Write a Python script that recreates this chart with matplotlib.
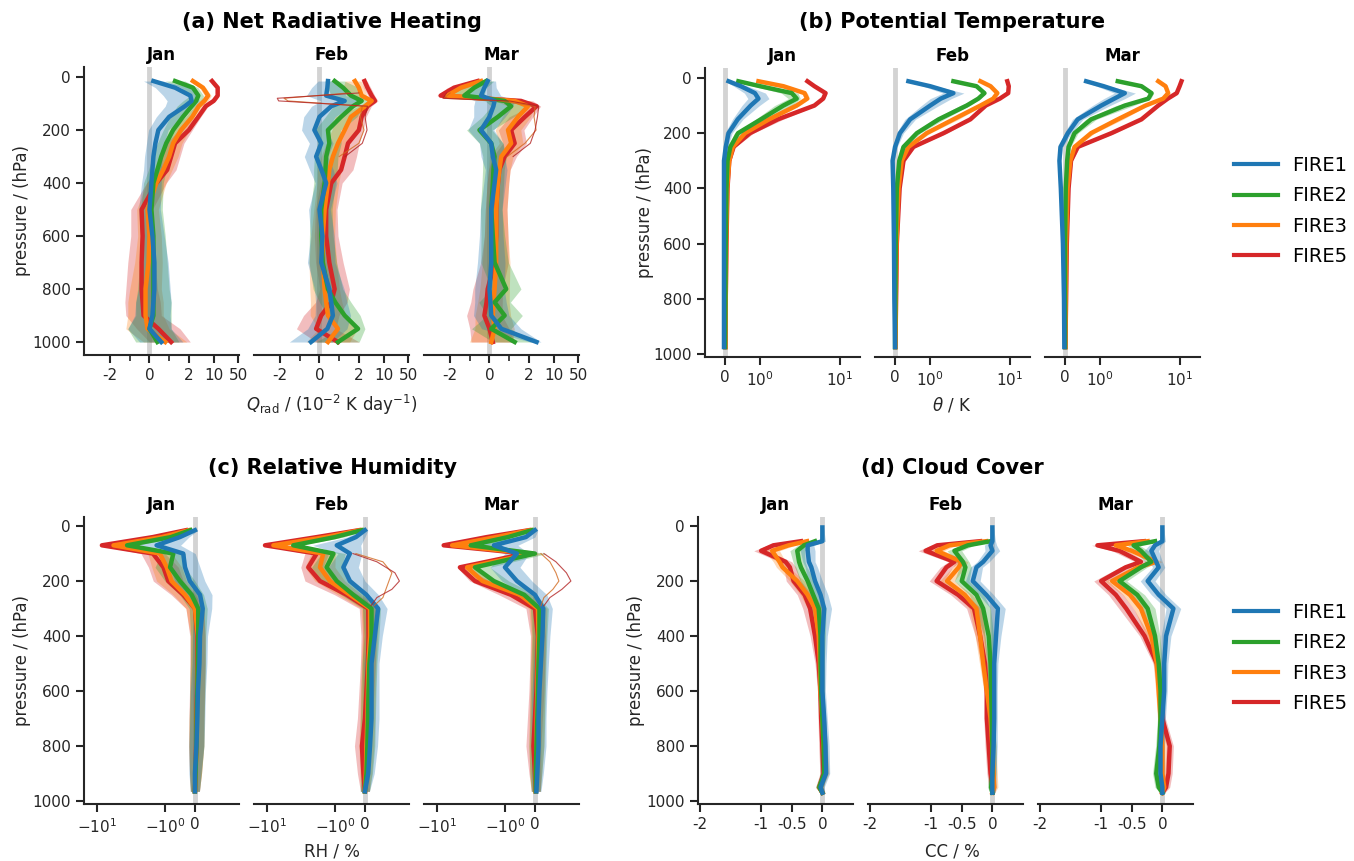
import numpy as np
import matplotlib
matplotlib.use("Agg")
import matplotlib.pyplot as plt
from matplotlib.lines import Line2D

plt.rcParams["font.family"] = "DejaVu Sans"
plt.rcParams["axes.unicode_minus"] = False

# experiments (drawn in reverse so FIRE1 ends on top)
exps = ["FIRE1", "FIRE2", "FIRE3", "FIRE5"]
colors = ["tab:blue", "tab:green", "tab:orange", "tab:red"]
months = ["Jan", "Feb", "Mar"]
nan = np.nan

# ---------------- (a) net radiative heating, 10^-2 K/day ----------------
p_a = [15, 40, 70, 90, 110, 150, 200, 250, 300, 350, 400, 500, 600, 700, 800, 850, 900, 950, 1000]
qrad_jan = np.array([
    [0.2, 1.3, 2.2, 2.4, 1.8, 1.0, 0.45, 0.3, 0.2, 0.15, 0.1, 0.0, 0.15, 0.25, 0.25, 0.2, 0.15, 0.0, 0.6],
    [1.3, 2.6, 3.7, 3.2, 2.4, 1.7, 1.2, 0.85, 0.6, 0.4, 0.2, 0.1, 0.2, 0.2, 0.2, 0.2, 0.2, 0.0, 0.4],
    [2.6, 5.0, 7.0, 5.5, 3.8, 2.5, 1.6, 1.2, 1.0, 0.7, 0.35, -0.1, 0.0, -0.05, -0.2, -0.2, -0.2, -0.1, 0.8],
    [9.0, 13.0, 13.0, 10.0, 6.0, 3.7, 2.0, 1.3, 1.1, 0.9, 0.35, -0.4, -0.35, -0.4, -0.4, -0.35, -0.3, 0.45, 1.1],
])
qrad_feb = np.array([
    [0.43, 0.4, 0.34, 1.28, 0.6, 0.0, -0.26, 0.09, -0.17, 0.1, 0.34, 0.0, 0.15, 0.09, 0.5, 0.6, 0.68, 0.4, -0.43],
    [0.77, 1.2, 1.6, 2.4, 1.7, 1.1, 0.43, 0.5, 0.34, 0.3, 0.26, 0.09, 0.09, 0.17, 0.43, 0.8, 1.28, 1.96, 0.94],
    [1.8, 2.0, 2.4, 4.6, 3.0, 1.6, 1.28, 0.94, 0.68, 0.5, 0.43, 0.26, 0.17, 0.17, 0.26, 0.34, 0.43, 0.94, 0.43],
    [2.9, 3.5, 4.6, 5.7, 3.5, 2.4, 2.0, 1.45, 1.28, 1.1, 0.6, 0.34, 0.34, 0.5, 0.77, 0.6, 0.09, -0.17, 0.94],
])
qrad_mar = np.array([
    [-0.09, -0.26, -0.43, 0.26, 0.2, 0.0, -0.43, 0.09, 0.17, 0.34, 0.26, 0.09, 0.09, 0.09, 0.0, 0.05, 0.09, 0.6, 3.3],
    [-0.17, -0.77, -1.28, 0.77, 1.1, 0.43, -0.51, 0.09, 0.26, 0.2, 0.17, 0.09, 0.17, 0.26, 0.85, 0.26, 0.77, 0.09, 1.28],
    [-0.43, -1.45, -2.4, 1.28, 1.96, 1.45, 0.94, 1.1, 0.6, 0.5, 0.43, 0.34, 0.34, 0.34, 0.26, 0.2, 0.17, 0.26, 0.09],
    [-0.6, -1.8, -3.7, 1.6, 3.3, 1.8, 1.1, 1.28, 0.77, 0.5, 0.43, 0.34, 0.34, 0.26, -0.09, -0.15, -0.26, 0.0, 0.17],
])
qrad_spread_jan = [0.5, 1.0, 1.5, 1.5, 1.0, 0.65, 0.5, 0.45, 0.45, 0.45, 0.5, 0.55, 0.6, 0.7, 0.8, 0.9, 0.9, 1.1, 1.1]
qrad_spread_feb = [0.5, 0.8, 1.0, 1.2, 1.0, 0.8, 0.65, 0.6, 0.6, 0.6, 0.55, 0.55, 0.6, 0.7, 0.75, 0.8, 0.9, 1.0, 1.1]
qrad_spread_mar = [0.4, 0.6, 1.0, 1.0, 1.0, 0.8, 0.65, 0.6, 0.6, 0.55, 0.55, 0.55, 0.6, 0.7, 0.75, 0.8, 0.9, 1.0, 1.1]
# single outlying members (thin lines)
p_a_thin = [60, 80, 90, 110, 150, 200, 250, 300]
qrad_feb_thin = np.array([
    [1.5, -1.8, -1.6, 2.5, 2.2, 2.8, 2.0, 1.0],
    [2.0, -2.4, -2.2, 3.5, 3.0, 3.4, 2.5, 1.3],
])
qrad_mar_thin = np.array([
    [-2.0, -3.0, 0.5, 3.0, 2.8, 3.2, 1.8, 0.9],
    [-2.5, -3.2, 1.0, 3.8, 3.5, 3.0, 2.2, 1.2],
])

# ---------------- (b) potential temperature, K ----------------
p_b = [12, 30, 55, 75, 100, 150, 200, 250, 300, 400, 600, 800, 975]
theta_jan = np.array([
    [0.1, 0.45, 0.85, 0.95, 0.73, 0.36, 0.1, 0.02, -0.03, -0.03, -0.03, -0.03, -0.03],
    [0.38, 1.0, 1.9, 2.1, 1.66, 1.02, 0.37, 0.15, 0.07, 0.04, 0.02, 0.01, 0.0],
    [0.95, 1.66, 2.8, 3.07, 2.1, 1.25, 0.57, 0.22, 0.12, 0.06, 0.03, 0.02, 0.01],
    [3.1, 4.0, 6.0, 5.5, 4.0, 1.5, 0.71, 0.24, 0.12, 0.07, 0.04, 0.02, 0.01],
])
theta_feb = np.array([
    [0.38, 1.0, 1.66, 1.3, 1.0, 0.43, 0.14, 0.0, -0.07, -0.05, -0.03, -0.02, 0.0],
    [1.66, 3.0, 4.0, 3.2, 2.1, 1.24, 0.62, 0.24, 0.12, 0.05, 0.02, 0.01, 0.0],
    [3.46, 5.0, 6.4, 5.5, 3.46, 1.66, 0.9, 0.38, 0.19, 0.1, 0.04, 0.02, 0.01],
    [9.2, 9.7, 9.5, 7.0, 4.2, 2.4, 1.38, 0.52, 0.24, 0.13, 0.05, 0.03, 0.01],
])
theta_mar = np.array([
    [0.6, 1.1, 1.7, 1.4, 1.03, 0.36, 0.08, -0.13, -0.16, -0.12, -0.06, -0.03, -0.02],
    [1.5, 2.5, 3.6, 3.2, 1.7, 0.74, 0.27, 0.1, 0.06, 0.02, 0.0, 0.0, 0.0],
    [4.6, 6.0, 6.6, 5.5, 2.9, 1.5, 0.74, 0.27, 0.15, 0.07, 0.03, 0.02, 0.01],
    [10.7, 10.0, 9.0, 6.5, 4.6, 2.5, 1.32, 0.36, 0.17, 0.1, 0.05, 0.03, 0.01],
])
theta_spread = [0.1, 0.2, 0.3, 0.3, 0.25, 0.15, 0.1, 0.06, 0.04, 0.03, 0.02, 0.02, 0.02]

# ---------------- (c) relative humidity, % ----------------
p_c = [15, 40, 70, 100, 150, 200, 250, 300, 400, 500, 600, 700, 800, 900, 965]
rh_jan = np.array([
    [0.0, -0.5, -1.28, -0.39, -0.33, -0.17, 0.17, 0.26, 0.17, 0.15, 0.1, 0.08, 0.05, 0.0, 0.0],
    [-0.15, -0.8, -2.8, -0.72, -0.83, -0.5, -0.11, 0.11, 0.11, 0.1, 0.08, 0.06, 0.05, 0.02, 0.0],
    [-0.2, -1.1, -5.0, -1.17, -0.94, -0.78, -0.33, 0.0, 0.1, 0.1, 0.08, 0.06, 0.05, 0.02, 0.0],
    [-0.3, -1.4, -8.2, -1.4, -1.05, -0.89, -0.39, 0.0, 0.08, 0.08, 0.07, 0.05, 0.04, 0.02, 0.0],
])
rh_feb = np.array([
    [0.0, -0.3, -0.94, -0.5, -0.72, -0.5, 0.05, 0.44, 0.33, 0.22, 0.22, 0.22, 0.17, 0.11, 0.0],
    [-0.1, -1.0, -3.3, -1.05, -1.28, -0.94, -0.39, 0.22, 0.22, 0.15, 0.12, 0.1, 0.08, 0.05, 0.0],
    [-0.15, -1.3, -7.7, -1.39, -1.5, -1.17, -0.5, 0.17, 0.17, 0.12, 0.1, 0.08, 0.05, 0.03, 0.0],
    [-0.2, -1.6, -11.0, -1.61, -1.89, -1.5, -0.61, 0.11, 0.12, 0.1, 0.05, 0.0, -0.1, -0.05, 0.0],
])
rh_mar = np.array([
    [0.0, -0.3, -1.37, -0.6, -1.0, -0.6, 0.0, 0.28, 0.25, 0.2, 0.15, 0.12, 0.12, 0.08, 0.05],
    [-0.1, -0.9, -2.4, 0.0, -2.0, -1.37, -0.36, 0.15, 0.15, 0.12, 0.1, 0.08, 0.05, 0.03, 0.03],
    [-0.15, -1.3, -5.3, -0.1, -2.8, -1.75, -0.5, 0.1, 0.12, 0.1, 0.08, 0.06, 0.05, 0.03, 0.03],
    [-0.2, -1.6, -7.6, -0.3, -3.8, -2.0, -0.8, 0.0, 0.1, 0.08, 0.05, 0.0, -0.05, 0.0, 0.03],
])
rh_spread = [0.1, 0.3, 0.8, 0.4, 0.5, 0.5, 0.4, 0.3, 0.25, 0.25, 0.25, 0.25, 0.25, 0.2, 0.15]
p_c_thin = [100, 130, 170, 200, 230, 260, 290]
rh_feb_thin = np.array([
    [-0.3, 0.6, 0.9, 0.8, 0.7, 0.6, 0.3],
    [-0.4, 0.4, 1.0, 1.15, 0.9, 0.4, 0.2],
])
rh_mar_thin = np.array([
    [0.2, 0.5, 0.7, 0.8, 0.6, 0.3, 0.2],
    [0.3, 0.7, 1.05, 1.2, 0.9, 0.5, 0.3],
])

# ---------------- (d) cloud cover, % ----------------
p_d = [5, 55, 70, 90, 130, 150, 200, 250, 300, 400, 500, 600, 700, 800, 900, 950, 970]
cc_jan = np.array([
    [0.0, 0.0, -0.24, -0.24, -0.22, -0.18, -0.12, -0.03, 0.03, 0.0, 0.0, 0.0, 0.03, 0.05, 0.06, -0.03, 0.0],
    [nan, -0.12, -0.3, -0.41, -0.38, -0.35, -0.24, -0.15, -0.06, -0.03, -0.03, -0.02, 0.0, 0.02, 0.03, -0.05, 0.0],
    [nan, -0.25, -0.55, -0.82, -0.7, -0.65, -0.41, -0.24, -0.12, -0.06, -0.04, -0.03, 0.0, 0.02, 0.05, -0.05, 0.0],
    [nan, -0.35, -0.8, -1.0, -0.6, -0.53, -0.47, -0.29, -0.2, -0.12, -0.06, -0.03, -0.02, 0.0, 0.02, -0.05, 0.0],
])
cc_feb = np.array([
    [0.0, 0.0, -0.03, 0.0, -0.15, -0.26, -0.32, -0.1, 0.09, 0.06, 0.03, 0.03, 0.03, 0.02, 0.0, 0.0, 0.0],
    [nan, -0.03, -0.4, -0.62, -0.48, -0.44, -0.5, -0.26, -0.15, -0.06, -0.03, -0.02, -0.01, 0.0, 0.0, -0.02, 0.0],
    [nan, -0.1, -0.7, -0.91, -0.5, -0.55, -0.74, -0.45, -0.26, -0.2, -0.15, -0.09, -0.03, 0.0, 0.02, 0.03, 0.0],
    [nan, -0.2, -0.9, -1.09, -0.62, -0.75, -0.91, -0.56, -0.3, -0.2, -0.12, -0.09, -0.09, -0.06, -0.03, 0.0, 0.0],
])
cc_mar = np.array([
    [0.0, 0.0, -0.12, -0.18, -0.1, -0.06, -0.24, -0.06, 0.18, 0.06, 0.03, 0.03, 0.0, -0.03, -0.03, 0.0, 0.0],
    [nan, -0.12, -0.47, -0.35, -0.18, -0.35, -0.7, -0.41, -0.24, -0.12, -0.06, -0.03, -0.03, -0.05, -0.1, -0.06, 0.0],
    [nan, -0.24, -0.76, -0.5, -0.1, -0.4, -0.82, -0.53, -0.35, -0.18, -0.09, -0.06, -0.03, 0.0, 0.0, 0.03, 0.0],
    [nan, -0.3, -1.06, -0.7, -0.35, -0.6, -1.0, -0.76, -0.59, -0.29, -0.09, -0.03, 0.0, 0.12, 0.1, 0.06, 0.0],
])
cc_spread = [0.02, 0.05, 0.1, 0.12, 0.1, 0.1, 0.12, 0.12, 0.12, 0.08, 0.06, 0.05, 0.05, 0.06, 0.06, 0.06, 0.04]

W, H = 1354, 861
fig = plt.figure(figsize=(W / 100, H / 100), dpi=100)
dark = "#262626"


def px_axes(x0, y0, x1, y1):
    return fig.add_axes([x0 / W, 1 - y1 / H, (x1 - x0) / W, (y1 - y0) / H])


def panel(lefts, width, top, bottom, ylim, levels, month_data, spreads, xlim, symlog,
          ticks, ticklabels, minor, title, title_x, title_y, xlabel, xlabel_y, ylabel_x,
          thin=None):
    p = np.array(levels, dtype=float)
    axes = []
    for m, (x0, data, spread) in enumerate(zip(lefts, month_data, spreads)):
        ax = px_axes(x0, top, x0 + width, bottom)
        if symlog:
            ax.set_xscale("symlog", linthresh=2, linscale=1)
        ax.axvline(0, color="#d3d3d3", lw=3.5, zorder=0)
        s = np.array(spread, dtype=float)
        for k in range(3, -1, -1):
            v = data[k]
            ok = ~np.isnan(v)
            ax.fill_betweenx(p[ok], (v - s)[ok], (v + s)[ok], color=colors[k], alpha=0.3, lw=0)
        for k in range(3, -1, -1):
            v = data[k]
            ok = ~np.isnan(v)
            ax.plot(v[ok], p[ok], color=colors[k], lw=3.2)
        ax.set_xlim(*xlim)
        ax.set_ylim(*ylim)
        ax.set_xticks(ticks)
        ax.set_xticklabels(ticklabels)
        ax.set_xticks(minor, minor=True)
        ax.set_yticks([0, 200, 400, 600, 800, 1000])
        for sp in ["top", "right"]:
            ax.spines[sp].set_visible(False)
        ax.spines["bottom"].set_linewidth(1.5)
        ax.spines["bottom"].set_color(dark)
        ax.spines["left"].set_linewidth(1.5)
        ax.spines["left"].set_color(dark)
        ax.tick_params(which="major", length=6, width=1.5, color=dark, labelsize=11, labelcolor=dark)
        ax.tick_params(which="minor", length=4, width=1.2, color=dark)
        if m > 0:
            ax.spines["left"].set_visible(False)
            ax.tick_params(axis="y", left=False, labelleft=False)
        ax.set_title(months[m], fontsize=12, fontweight="bold", pad=5)
        ax.patch.set_alpha(0)
        axes.append(ax)
    # thin lines of outlying members
    if thin is not None:
        tp, members = thin
        for m, arr in members.items():
            for v, c in zip(arr, ["#d2691e", "#b22222"]):
                axes[m].plot(v, tp, color=c, lw=0.8, alpha=0.8)
    fig.text(title_x / W, 1 - title_y / H, title, fontsize=15, fontweight="bold",
             ha="center", va="center")
    fig.text(title_x / W, 1 - xlabel_y / H, xlabel, fontsize=12, ha="center", va="center", color=dark)
    fig.text(ylabel_x / W, 1 - ((top + bottom) / 2) / H, "pressure / (hPa)", fontsize=12,
             rotation=90, ha="center", va="center", color=dark)


panel([84, 254, 424], 155, 67, 355, (1049, -38), p_a, [qrad_jan, qrad_feb, qrad_mar],
      [qrad_spread_jan, qrad_spread_feb, qrad_spread_mar], (-10.9, 52), True,
      [-2, 0, 2, 10, 50], ["-2", "0", "2", "10", "50"], [-1, 1],
      "(a) Net Radiative Heating", 332, 22,
      r"$Q_{\mathrm{rad}}$ / (10$^{-2}$ K day$^{-1}$)", 405, 22,
      thin=(p_a_thin, {1: qrad_feb_thin, 2: qrad_mar_thin}))

panel([705, 875, 1045], 155, 68, 357, (1011, -36), p_b, [theta_jan, theta_feb, theta_mar],
      [theta_spread] * 3, (-0.57, 21), True,
      [0, 1, 10], ["0", r"$10^{0}$", r"$10^{1}$"], [],
      "(b) Potential Temperature", 952, 22, r"$\theta$ / K", 405, 645)

panel([84, 254, 424], 155, 517, 804, (1011, -33), p_c, [rh_jan, rh_feb, rh_mar],
      [rh_spread] * 3, (-17.6, 1.47), True,
      [-10, -1, 0], [r"$-10^{1}$", r"$-10^{0}$", "0"], [],
      "(c) Relative Humidity", 332, 468, "RH / %", 852, 22,
      thin=(p_c_thin, {1: rh_feb_thin, 2: rh_mar_thin}))

panel([698, 868, 1038], 155, 517, 804, (1011, -33), p_d, [cc_jan, cc_feb, cc_mar],
      [cc_spread] * 3, (-2.03, 0.5), False,
      [-2, -1, -0.5, 0], ["-2", "-1", "-0.5", "0"], [],
      "(d) Cloud Cover", 952, 468, "CC / %", 852, 636)

handles = [Line2D([0], [0], color=c, lw=3) for c in colors]
for cy in [211, 658]:
    fig.legend(handles, exps, loc="center left", bbox_to_anchor=(1216 / W, 1 - cy / H),
               frameon=False, fontsize=14, handlelength=2.3, labelspacing=0.58,
               handletextpad=0.7)

fig.savefig("out.png", dpi=100)
